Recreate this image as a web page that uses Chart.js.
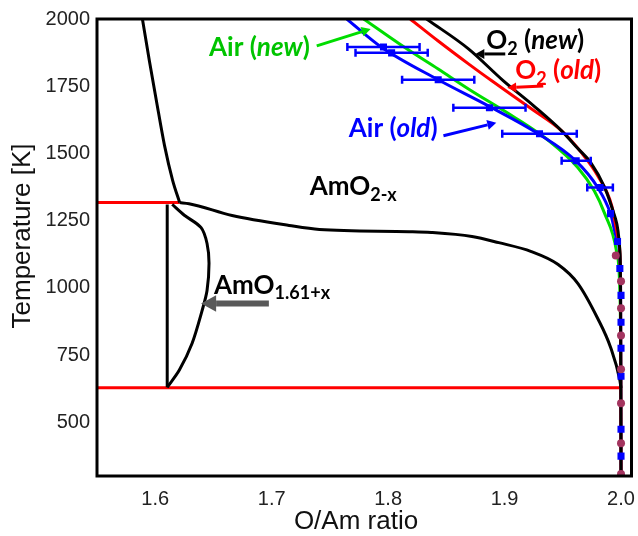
<!DOCTYPE html>
<html>
<head>
<meta charset="utf-8">
<script src="https://cdn.jsdelivr.net/npm/chart.js@4"></script>
<style>
  html, body { margin: 0; padding: 0; background: #fff; }
</style>
</head>
<body>
<canvas id="chart" width="638" height="536"></canvas>
<script>
// axis ranges and ticks
const xMin = 1.55, xMax = 2.009, tMin = 300, tMax = 2000;
const xTicks = [1.6, 1.7, 1.8, 1.9, 2.0];
const tTicks = [500, 750, 1000, 1250, 1500, 1750, 2000];

// phase boundaries (O/Am, T)
const leftX = [1.589, 1.595, 1.601, 1.608, 1.615, 1.621];
const leftT = [2000, 1844, 1696, 1529, 1399, 1317];

const upperX = [1.621, 1.629, 1.666, 1.715, 1.741, 1.818, 1.837, 1.872, 1.895, 1.923, 1.946, 1.963, 1.980, 1.991, 1.999, 2.0];
const upperT = [1317, 1313, 1269, 1232, 1217, 1209, 1206, 1191, 1168, 1135, 1087, 1016, 886, 779, 656, 627];

const domeX = [1.6146, 1.625, 1.6394, 1.6445, 1.6462, 1.6445, 1.6403, 1.6317, 1.6206, 1.6103];
const domeT = [1310, 1270, 1224, 1165, 1091, 990, 916, 794, 693, 630];

const vertX = [1.6103, 1.6103];
const vertT = [1310, 630];

const hiLineX = [1.55, 1.621];
const hiLineT = [1317, 1317];
const loLineX = [1.55, 1.9995];
const loLineT = [628, 628];

// oxygen potential curves
const o2NewX = [1.833, 1.869, 1.899, 1.925, 1.949, 1.963, 1.974, 1.986, 1.995, 1.999, 1.9996, 2.0];
const o2NewT = [2000, 1889, 1770, 1677, 1584, 1518, 1466, 1373, 1261, 1139, 990, 300];

const o2OldX = [1.819, 1.843, 1.869, 1.889, 1.923, 1.949, 1.966, 1.980, 1.992, 1.998, 1.9996, 2.0];
const o2OldT = [2000, 1918, 1833, 1770, 1666, 1584, 1503, 1417, 1306, 1176, 1027, 300];

const airNewX = [1.779, 1.815, 1.843, 1.869, 1.909, 1.938, 1.963, 1.977, 1.986, 1.996, 1.999, 1.9996, 2.0];
const airNewT = [2000, 1892, 1814, 1740, 1633, 1547, 1447, 1361, 1276, 1139, 990, 805, 300];

const airOldX = [1.7645, 1.794, 1.843, 1.886, 1.929, 1.961, 1.980, 1.991, 1.997, 1.9996, 2.0];
const airOldT = [2000, 1896, 1774, 1677, 1573, 1473, 1373, 1276, 1176, 1027, 300];

// measured points, air (old) with error bars
const errX = [1.796, 1.803, 1.843, 1.887, 1.930, 1.9615, 1.982];
const errT = [1896, 1874, 1774, 1670, 1573, 1473, 1373];
const errDx = [0.031, 0.031, 0.031, 0.031, 0.032, 0.0125, 0.011];

const sqX = [1.991, 1.997, 1.999, 2.0, 2.0, 2.0, 2.0, 2.0, 2.0];
const sqT = [1276, 1172, 1072, 972, 872, 775, 671, 474, 374];

const dotX = [1.9955, 2.0, 2.0, 2.0, 2.0, 2.0, 2.0, 2.0];
const dotT = [1120, 1024, 924, 823, 697, 571, 422, 307];

const GREEN = '#00dd00', GREEN_TXT = '#00c400', BLUE = '#0000ff', RED = '#ff0000', MAROON = '#a3345f';

function pts(xs, ts) {
    return xs.map((x, i) => ({ x: x, y: ts[i] }));
}

// smooth: 'mono' -> monotone cubic along x, number -> bezier tension
function line(xs, ts, color, order, smooth) {
    const ds = {
        data: pts(xs, ts),
        showLine: true,
        borderColor: color,
        borderWidth: 3,
        pointRadius: 0,
        order: order
    };
    if (smooth === 'mono') ds.cubicInterpolationMode = 'monotone';
    else ds.tension = smooth;
    return ds;
}

const datasets = [
    line(leftX, leftT, '#000', 3, 'mono'),
    line(upperX, upperT, '#000', 3, 'mono'),
    line(domeX, domeT, '#000', 3, 0.3),
    line(vertX, vertT, '#000', 3, 0),
    line(hiLineX, hiLineT, RED, 4, 0),
    line(loLineX, loLineT, RED, 4, 0),
    line(o2NewX, o2NewT, '#000', 3, 'mono'),
    line(o2OldX, o2OldT, RED, 4, 'mono'),
    line(airOldX, airOldT, BLUE, 5, 'mono'),
    line(airNewX, airNewT, GREEN, 6, 'mono')
];

// error bars, one small dataset each, caps drawn as rotated line points
errX.forEach((x, i) => {
    datasets.push({
        data: [{ x: x - errDx[i], y: errT[i] }, { x: x + errDx[i], y: errT[i] }],
        showLine: true,
        borderColor: BLUE,
        borderWidth: 2.5,
        pointStyle: 'line',
        pointRotation: 90,
        pointRadius: 4,
        pointBorderWidth: 2.5,
        pointBorderColor: BLUE,
        order: 2
    });
});

datasets.push({
    data: pts(errX, errT).concat(pts(sqX, sqT)),
    pointStyle: 'rect',
    pointRadius: 5,
    backgroundColor: BLUE,
    borderColor: BLUE,
    borderWidth: 0,
    order: 1
});

datasets.push({
    data: pts(dotX, dotT),
    pointStyle: 'circle',
    pointRadius: 4,
    backgroundColor: MAROON,
    borderColor: MAROON,
    borderWidth: 0,
    order: 0
});

// text labels and arrows placed in data coordinates
const labels = [
    { x: 1.6462, t: 1892, color: GREEN_TXT, parts: [['Air (', 'b'], ['new', 'i'], [')', 'b']] },
    { x: 1.8843, t: 1918, color: '#000', parts: [['O', 'b'], ['2', 's'], [' (', 'b'], ['new', 'i'], [')', 'b']] },
    { x: 1.9092, t: 1807, color: RED, parts: [['O', 'b'], ['2', 's'], [' (', 'b'], ['old', 'i'], [')', 'b']] },
    { x: 1.7662, t: 1592, color: BLUE, parts: [['Air (', 'b'], ['old', 'i'], [')', 'b']] },
    { x: 1.7327, t: 1376, color: '#000', parts: [['AmO', 'b'], ['2-x', 's']] },
    { x: 1.6505, t: 1009, color: '#000', parts: [['AmO', 'b'], ['1.61+x', 's']] }
];

const arrows = [
    { from: [1.7387, 1900], to: [1.7850, 1963], color: GREEN, w: 3, head: 9 },
    { from: [1.9006, 1870], to: [1.8749, 1870], color: '#000', w: 3, head: 9 },
    { from: [1.9332, 1751], to: [1.9023, 1744], color: RED, w: 3, head: 9 },
    { from: [1.8475, 1566], to: [1.8929, 1614], color: BLUE, w: 3, head: 9 },
    { from: [1.6976, 942], to: [1.6394, 942], color: '#595959', w: 6, head: 15 }
];

function drawRich(ctx, x, y, parts, color) {
    let cx = x;
    ctx.fillStyle = color;
    ctx.textBaseline = 'middle';
    ctx.textAlign = 'left';
    parts.forEach(p => {
        const sub = p[1] === 's';
        const size = sub ? 18 : 26;
        ctx.font = (p[1] === 'i' ? 'italic ' : '') + 'bold ' + size + 'px Lato';
        ctx.fillText(p[0], cx, sub ? y + 8 : y);
        cx += ctx.measureText(p[0]).width;
    });
}

function drawArrow(ctx, x1, y1, x2, y2, color, w, head) {
    const a = Math.atan2(y2 - y1, x2 - x1);
    const bx = x2 - Math.cos(a) * head, by = y2 - Math.sin(a) * head;
    ctx.strokeStyle = color;
    ctx.fillStyle = color;
    ctx.lineWidth = w;
    ctx.beginPath();
    ctx.moveTo(x1, y1);
    ctx.lineTo(bx, by);
    ctx.stroke();
    const hw = head * 0.55;
    ctx.beginPath();
    ctx.moveTo(x2, y2);
    ctx.lineTo(bx + Math.sin(a) * hw, by - Math.cos(a) * hw);
    ctx.lineTo(bx - Math.sin(a) * hw, by + Math.cos(a) * hw);
    ctx.closePath();
    ctx.fill();
}

const decor = {
    id: 'decor',
    afterDatasetsDraw(chart) {
        const ctx = chart.ctx, a = chart.chartArea;
        const sx = chart.scales.x, sy = chart.scales.y;
        ctx.save();
        // frame
        ctx.strokeStyle = '#000';
        ctx.lineWidth = 3;
        ctx.strokeRect(a.left, a.top, a.right - a.left, a.bottom - a.top);

        arrows.forEach(r => {
            drawArrow(ctx, sx.getPixelForValue(r.from[0]), sy.getPixelForValue(r.from[1]),
                sx.getPixelForValue(r.to[0]), sy.getPixelForValue(r.to[1]), r.color, r.w, r.head);
        });
        labels.forEach(l => {
            drawRich(ctx, sx.getPixelForValue(l.x), sy.getPixelForValue(l.t), l.parts, l.color);
        });

        // axis titles
        ctx.fillStyle = '#111';
        ctx.font = '26px "Liberation Sans", Arial';
        ctx.textAlign = 'center';
        ctx.textBaseline = 'middle';
        ctx.fillText('O/Am ratio', 356, 522);
        ctx.translate(23, 236);
        ctx.rotate(-Math.PI / 2);
        ctx.fillText('Temperature [K]', 0, 0);
        ctx.restore();
    }
};

const tickFont = { family: '"Liberation Sans", Arial', size: 20 };

new Chart(document.getElementById('chart'), {
    type: 'scatter',
    data: { datasets: datasets },
    options: {
        responsive: false,
        animation: false,
        layout: { padding: { left: 0, right: 4, top: 18, bottom: 0 } },
        plugins: { legend: { display: false }, tooltip: { enabled: false } },
        scales: {
            x: {
                type: 'linear',
                min: xMin,
                max: xMax,
                grid: { display: false, drawTicks: false },
                border: { display: false },
                afterBuildTicks: s => { s.ticks = xTicks.map(v => ({ value: v })); },
                afterFit: s => { s.height = 60; s.paddingLeft = 0; s.paddingRight = 0; },
                ticks: {
                    font: tickFont, color: '#222', padding: 11, autoSkip: false, maxRotation: 0,
                    callback: v => v.toFixed(1)
                }
            },
            y: {
                type: 'linear',
                min: tMin,
                max: tMax,
                grid: { display: false, drawTicks: false },
                border: { display: false },
                afterBuildTicks: s => { s.ticks = tTicks.map(v => ({ value: v })); },
                afterFit: s => { s.width = 97; },
                ticks: { font: tickFont, color: '#222', padding: 7, autoSkip: false, callback: v => String(v) }
            }
        }
    },
    plugins: [decor]
});
</script>
</body>
</html>
